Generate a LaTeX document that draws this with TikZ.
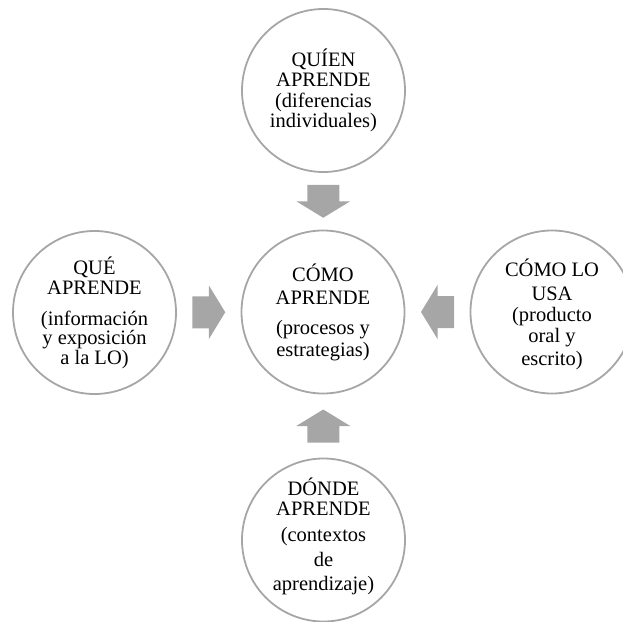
\documentclass[tikz,border=0pt]{standalone}
\usepackage{fontspec}
\setmainfont{Liberation Serif}
\usetikzlibrary{calc}

\definecolor{ringgray}{HTML}{A6A6A6}

\tikzset{
	ring/.style={circle, draw=ringgray, line width=1.8pt, minimum size=163pt, inner sep=0pt},
	ringtext/.style={align=center, inner sep=0pt, font=\fontsize{20.5}{21}\selectfont},
	blockarrow/.style={fill=ringgray}
}

\begin{document}
\begin{tikzpicture}[x=1pt, y=-1pt]
	\useasboundingbox (0,0) rectangle (623,621);
	
	\begin{scope}
		\node[ring] (como) at (323,312) {};
		\node[ring] (quien) at (323.5,90.5) {};
		\node[ring] (que) at (94.5,312.5) {};
		\node[ring] (usa) at (552,312) {};
		\node[ring] (donde) at (323.5,540) {};
	\end{scope}
	
	\begin{scope}[ringtext]
		\node (como-t) at (como) {CÓMO\\[2pt]APRENDE\\[9pt](procesos y\\[1pt]estrategias)};
		\node (quien-t) at (quien) {QUÍEN\\[-0.5pt]APRENDE\\[-0.5pt](diferencias\\[-0.5pt]individuales)};
		\node (que-t) at (que) {QUÉ\\[-1pt]APRENDE\\[10pt](información\\[-2pt]y exposición\\[-1pt]a la LO)};
		\node (usa-t) at ($(usa)+(0,2)$) {CÓMO LO\\[3pt]USA\\(producto\\oral y\\[2pt]escrito)};
		\node (donde-t) at ($(donde)+(0,-4)$) {DÓNDE\\[-1pt]APRENDE\\[5pt](contextos\\[4pt]de\\[3pt]aprendizaje)};
	\end{scope}
	
	% block arrows into the centre
	\foreach \src/\ang in {quien/-90, que/0, usa/180, donde/90}
		\fill[blockarrow, shift={($(\src)!0.5!(como)$)}, rotate=\ang]
			(-16.5,-16) -- (0,-16) -- (0,-27) -- (16.5,0) -- (0,27) -- (0,16) -- (-16.5,16) -- cycle;
\end{tikzpicture}
\end{document}
